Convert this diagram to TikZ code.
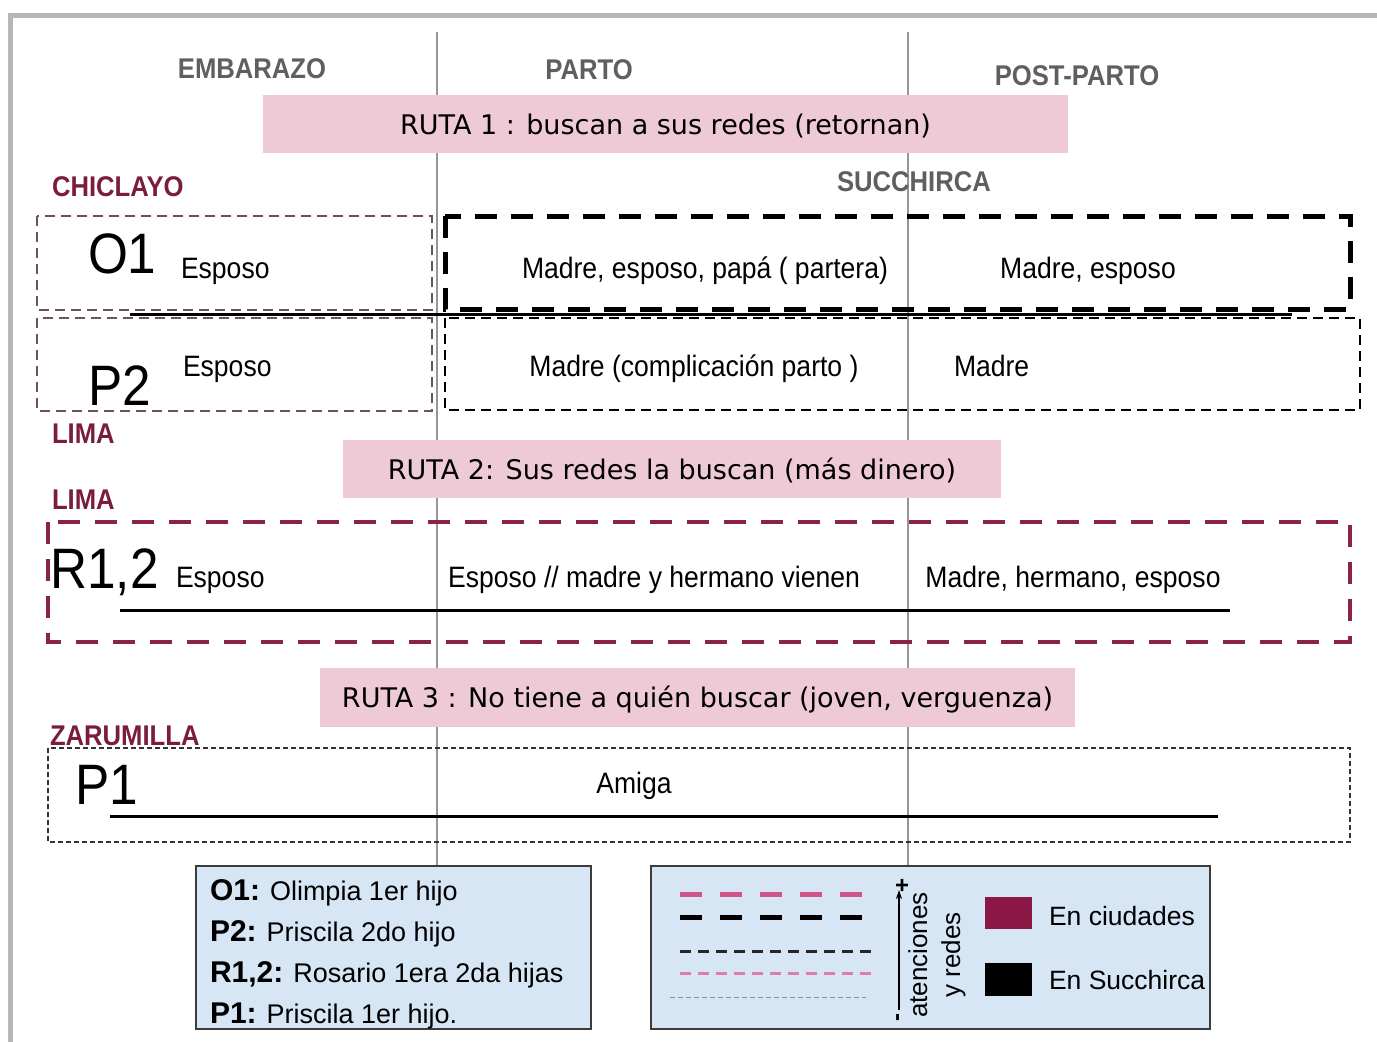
\documentclass[tikz,border=0pt]{standalone}
\usepackage{fontspec}
\setmainfont{Liberation Sans}
\newfontfamily\nsans[FakeStretch=0.9]{Liberation Sans}
\newfontfamily\routefont{DejaVu Sans}
\usetikzlibrary{arrows.meta}

\definecolor{framegray}{RGB}{182,182,182}
\definecolor{headgray}{RGB}{95,95,95}
\definecolor{citymaroon}{RGB}{122,28,62}
\definecolor{routepink}{RGB}{238,202,215}
\definecolor{axisgray}{RGB}{150,150,150}
\definecolor{leftdash}{RGB}{110,80,94}
\definecolor{limadash}{RGB}{138,34,76}
\definecolor{legendblue}{RGB}{214,230,245}
\definecolor{legendedge}{RGB}{60,60,60}
\definecolor{legendpink}{RGB}{210,85,135}
\definecolor{legendpinklight}{RGB}{222,125,165}
\definecolor{legendthin}{RGB}{150,135,160}
\definecolor{cityfill}{RGB}{140,24,70}

\newcommand\legkeyfont{\fontsize{30}{30}\selectfont\bfseries}

\begin{document}
\begin{tikzpicture}[x=1pt,y=-1pt,
  txt/.style={inner sep=0pt, outer sep=0pt},
  phase/.style={txt, anchor=base, text=headgray,
    font=\nsans\bfseries\fontsize{28.5}{30}\selectfont},
  city/.style={txt, anchor=base west, text=citymaroon,
    font=\nsans\bfseries\fontsize{28.5}{30}\selectfont},
  body/.style={txt, font=\nsans\fontsize{29.5}{31}\selectfont},
  bigid/.style={txt, anchor=base west, font=\nsans\fontsize{57}{60}\selectfont},
  routebar/.style={fill=routepink, draw=none, inner sep=0pt,
    text height=21pt, text depth=1pt,
    font=\routefont\fontsize{27}{29}\selectfont},
  phaseline/.style={draw=axisgray, line width=2pt},
  timeline/.style={draw=black, line width=3pt},
  leftbox/.style={draw=leftdash, line width=2pt, dash pattern=on 10pt off 6pt},
  succhiraheavy/.style={draw=black, line width=5pt, dash pattern=on 22pt off 14pt},
  succhiralight/.style={draw=black, line width=2pt, dash pattern=on 10pt off 6pt},
  limaheavy/.style={draw=limadash, line width=4.5pt, dash pattern=on 22pt off 15pt},
  faintbox/.style={draw=black!80, line width=1.1pt, dash pattern=on 5pt off 3pt},
  legendbox/.style={draw=legendedge, fill=legendblue, line width=2pt},
  legtxt/.style={txt, anchor=base west, font=\fontsize{27}{30}\selectfont},
  keytxt/.style={txt, anchor=base west, font=\fontsize{26.5}{30}\selectfont},
]
\useasboundingbox (0,0) rectangle (1377,1042);
\clip (0,0) rectangle (1377,1042);
\fill[white] (0,0) rectangle (1377,1042);

% outer frame, open to the right and bottom
\draw[framegray, line width=5pt] (10,1060) -- (10,15) -- (1395,15);

% phase separators
\coordinate (sepAtop) at (437,32);
\coordinate (sepAbot) at (437,866);
\coordinate (sepBtop) at (908,32);
\coordinate (sepBbot) at (908,866);
\draw[phaseline] (sepAtop) -- (sepAbot);
\draw[phaseline] (sepBtop) -- (sepBbot);

% phase headings
\node[phase] (hEmb) at (252,78) {EMBARAZO};
\node[phase] (hPar) at (589,79) {PARTO};
\node[phase] (hPost) at (1077,85) {POST-PARTO};

% route banners
\node[routebar, minimum width=805pt, minimum height=58pt] (ruta1) at (665.5,124)
  {RUTA 1 : buscan a sus redes (retornan)};
\node[routebar, minimum width=658pt, minimum height=58pt] (ruta2) at (672,469)
  {RUTA 2: Sus redes la buscan (más dinero)};
\node[routebar, minimum width=755pt, minimum height=59pt] (ruta3) at (697.5,697.5)
  {RUTA 3 : No tiene a quién buscar (joven, verguenza)};

% place labels
\node[city] (cChi) at (52,196) {CHICLAYO};
\node[phase] (cSuc) at (914,191) {SUCCHIRCA};
\node[city] (cLima1) at (52,443) {LIMA};
\node[city] (cLima2) at (52,509) {LIMA};
\node[city] (cZar) at (50,745) {ZARUMILLA};

% ---- route 1 : O1 and P2
\draw[leftbox] (37,216) rectangle (432,310);
\draw[leftbox] (37,318) rectangle (432,411);
\draw[succhiralight] (445,318) rectangle (1360,410);
\draw[timeline] (130,314) -- (1292,314);
\draw[succhiraheavy] (445,216) rectangle (1350,309);

\node[bigid] (o1) at (88,273) {O1};
\node[body, anchor=base west] (o1a) at (181,278) {Esposo};
\node[body, anchor=base] (o1b) at (705,278) {Madre, esposo, papá ( partera)};
\node[body, anchor=base] (o1c) at (1088,278) {Madre, esposo};

\node[bigid] (p2) at (88,405) {P2};
\node[body, anchor=base west] (p2a) at (183,376) {Esposo};
\node[body, anchor=base] (p2b) at (694,376) {Madre (complicación parto )};
\node[body, anchor=base west] (p2c) at (954,376) {Madre};

% ---- route 2 : R1,2
\draw[limaheavy] (48,522) rectangle (1350,642);
\draw[timeline] (120,610) -- (1230,610);
\node[bigid] (r12) at (50,588) {R1{,}\kern1pt2};
\node[body, anchor=base west] (r12a) at (176,587) {Esposo};
\node[body, anchor=base] (r12b) at (654,587) {Esposo // madre y hermano vienen};
\node[body, anchor=base] (r12c) at (1073,587) {Madre, hermano, esposo};

% ---- route 3 : P1
\draw[faintbox] (48,748) rectangle (1350,842);
\draw[timeline] (110,816) -- (1218,816);
\node[bigid] (p1) at (75,804) {P1};
\node[body, anchor=base] (p1a) at (634,793) {Amiga};

% ---- legend: participants
\draw[legendbox] (196,866) rectangle (591,1029);
\node[legtxt] (lO1) at (210,900) {{\legkeyfont O1:} Olimpia 1er hijo};
\node[legtxt] (lP2) at (210,941) {{\legkeyfont P2:} Priscila 2do hijo};
\node[legtxt] (lR12) at (210,982) {{\legkeyfont R1,2:} Rosario 1era 2da hijas};
\node[legtxt] (lP1) at (210,1023) {{\legkeyfont P1:} Priscila 1er hijo.};

% ---- legend: line styles
\draw[legendbox] (651,866) rectangle (1210,1029);
\draw[draw=legendpink, line width=5pt, dash pattern=on 22pt off 18pt] (680,894) -- (864,894);
\draw[draw=black, line width=5pt, dash pattern=on 22pt off 18pt] (680,917) -- (864,917);
\draw[draw=black!85, line width=3pt, dash pattern=on 11pt off 7pt] (680,951) -- (872,951);
\draw[draw=legendpinklight, line width=3pt, dash pattern=on 11pt off 7pt] (680,973) -- (872,973);
\draw[draw=legendthin, line width=1pt, dash pattern=on 5pt off 3pt] (670,997) -- (866,997);

\coordinate (scaleLow) at (899,1010);
\coordinate (scaleHigh) at (899,890);
\draw[line width=1.3pt, -{Stealth[length=9pt,width=6pt]}] (scaleLow) -- (scaleHigh);
\node[txt, font=\bfseries\fontsize{24}{24}\selectfont] (plus) at (902,886) {+};
\node[txt, rotate=90, font=\bfseries\fontsize{24}{24}\selectfont] (minus) at (900,1017) {-};
\node[txt, rotate=90, align=center, font=\fontsize{26}{33}\selectfont] (scaleLbl) at (937,955)
  {atenciones\\y redes};

\fill[cityfill] (985,897) rectangle (1032,929);
\fill[black] (985,963) rectangle (1032,996);
\node[keytxt] (kCity) at (1049,925) {En ciudades};
\node[keytxt] (kSuc) at (1049,989) {En Succhirca};
\end{tikzpicture}
\end{document}
